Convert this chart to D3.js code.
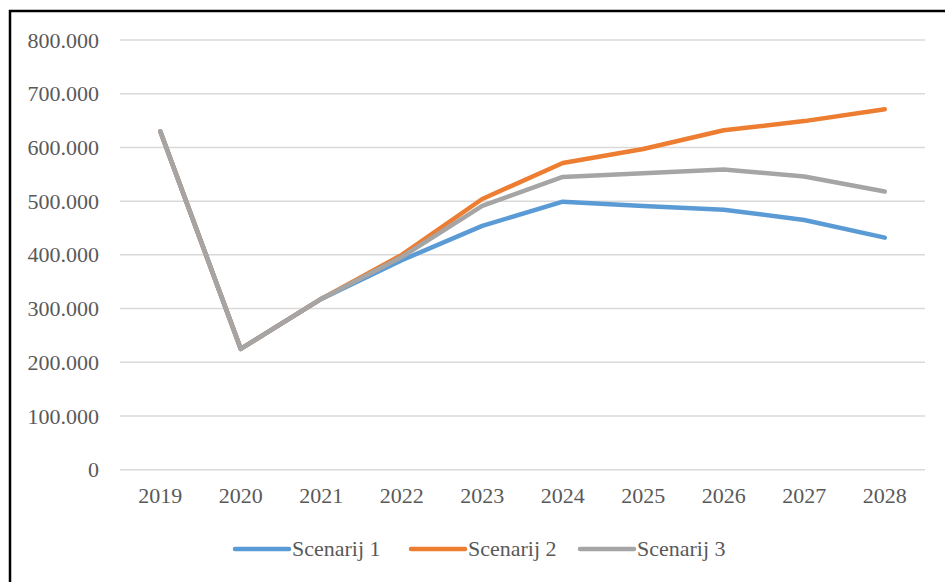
<!DOCTYPE html>
<html>
<head>
<meta charset="utf-8">
<script src="https://cdn.jsdelivr.net/npm/d3@7"></script>
<style>
  body { margin: 0; background: #fff; }
  svg { display: block; }
</style>
</head>
<body>
<svg id="svg"></svg>
<script>
// years on the x axis
var years = ["2019","2020","2021","2022","2023","2024","2025","2026","2027","2028"];
// series values
var scenarij1 = [630000, 225000, 318000, 390000, 454000, 499000, 491000, 484000, 465000, 432000];
var scenarij2 = [630000, 225000, 318000, 400000, 504000, 571000, 597000, 632000, 649000, 671000];
var scenarij3 = [630000, 225000, 318000, 396000, 491000, 545000, 552000, 559000, 546000, 518000];
var seriesNames = ["Scenarij 1", "Scenarij 2", "Scenarij 3"];
var yTicks = [0, 100000, 200000, 300000, 400000, 500000, 600000, 700000, 800000];

var colors = ["#5b9bd5", "#ed7d31", "#a5a5a5"];
var series = [scenarij1, scenarij2, scenarij3];
var font = "'Liberation Serif'";

var width = 945, height = 582;
var svg = d3.select("svg").attr("width", width).attr("height", height);

// outer frame (right/bottom edges fall outside the picture)
svg.append("rect")
  .attr("x", 10).attr("y", 11)
  .attr("width", 960).attr("height", 600)
  .attr("fill", "none").attr("stroke", "#000").attr("stroke-width", 2.5);

var xScale = d3.scaleBand().domain(years).range([120, 925]);
var yScale = d3.scaleLinear().domain([0, 800000]).range([469.7, 40]);

// gridlines
svg.append("g").selectAll("line")
  .data(yTicks).enter().append("line")
  .attr("x1", 120).attr("x2", 925)
  .attr("y1", function(d){ return yScale(d); })
  .attr("y2", function(d){ return yScale(d); })
  .attr("stroke", "#d9d9d9").attr("stroke-width", 1.5);

var fmt = function(d){ return d === 0 ? "0" : d3.format(",")(d).replace(/,/g, "."); };

var yAxis = svg.append("g")
  .attr("transform", "translate(99,0)")
  .call(d3.axisLeft(yScale).tickValues(yTicks).tickFormat(fmt).tickSize(0).tickPadding(0));
yAxis.select(".domain").remove();
yAxis.selectAll("text")
  .style("font-family", font).style("font-size", "22px")
  .attr("fill", "#595959").attr("dy", "0.32em");

var xAxis = svg.append("g")
  .attr("transform", "translate(0,487)")
  .call(d3.axisBottom(xScale).tickSize(0).tickPadding(0));
xAxis.select(".domain").remove();
xAxis.selectAll("text")
  .style("font-family", font).style("font-size", "22px")
  .attr("fill", "#595959").attr("dy", "0.71em");

var line = d3.line()
  .x(function(d, i){ return xScale(years[i]) + xScale.bandwidth() / 2; })
  .y(function(d){ return yScale(d); });

series.forEach(function(s, k){
  svg.append("path")
    .datum(s)
    .attr("d", line)
    .attr("fill", "none")
    .attr("stroke", colors[k])
    .attr("stroke-width", 4.5)
    .attr("stroke-linejoin", "round")
    .attr("stroke-linecap", "round");
});

// legend
var legendX = [235, 411, 580];
var legend = svg.append("g");
seriesNames.forEach(function(name, k){
  legend.append("line")
    .attr("x1", legendX[k]).attr("x2", legendX[k] + 54)
    .attr("y1", 549).attr("y2", 549)
    .attr("stroke", colors[k]).attr("stroke-width", 4.5)
    .attr("stroke-linecap", "round");
  legend.append("text")
    .attr("x", legendX[k] + 57).attr("y", 556)
    .style("font-family", font).style("font-size", "22px")
    .attr("fill", "#595959")
    .text(name);
});
</script>
</body>
</html>
